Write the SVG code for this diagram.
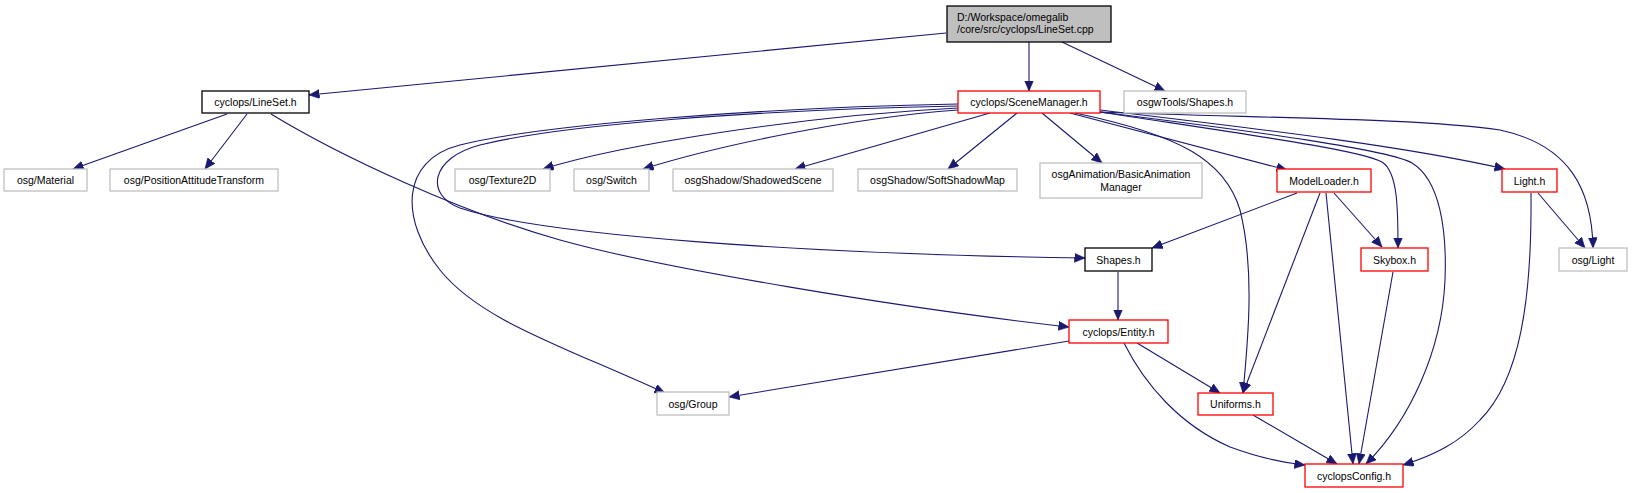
<svg xmlns="http://www.w3.org/2000/svg" width="1632" height="493" viewBox="0 0 1632 493">
<style>
text{font-family:"Liberation Sans",Arial,sans-serif;font-size:10.5px;fill:#000;text-anchor:middle}
.b{fill:#fff;stroke:#000;stroke-width:1.3}
.r{fill:#fff;stroke:#ff0000;stroke-width:1.3}
.g{fill:#fff;stroke:#bfbfbf;stroke-width:1.3}
.top{fill:#bfbfbf;stroke:#000;stroke-width:1.3}
#edges path{fill:none;stroke:#191970;stroke-width:1.1;marker-end:url(#ah)}
</style>
<defs>
<marker id="ah" markerUnits="userSpaceOnUse" markerWidth="11" markerHeight="10" viewBox="0 0 11 10" refX="10.5" refY="4.5" orient="auto">
<path d="M0,0 L10.5,4.5 L0,9 z" fill="#191970" stroke="#191970" stroke-width="0.6"/>
</marker>
</defs>
<rect width="1632" height="493" fill="#fff"/>
<g id="edges">
<path d="M946,33 L309,95"/>
<path d="M1029,42 L1029,91"/>
<path d="M1062,42 L1165,91"/>
<path d="M227,114 L73,169"/>
<path d="M247,114 L205,169"/>
<path d="M271,114 C340,156 460,212 560,240 S900,308 1069,327"/>
<path d="M958,106 C750,110 560,125 480,145 C430,158 425,195 460,208 C540,235 800,254 1085,258"/>
<path d="M958,104 C750,108 540,125 460,145 C400,160 400,220 440,270 C480,320 560,345 665,393"/>
<path d="M958,108 C800,116 620,145 543,169"/>
<path d="M958,110 C850,118 720,145 643,169"/>
<path d="M990,113 L795,169"/>
<path d="M1017,113 L948,169"/>
<path d="M1042,113 L1102,163"/>
<path d="M1070,113 L1287,170"/>
<path d="M1075,113 C1180,135 1225,160 1240,210 C1255,270 1248,340 1243,393"/>
<path d="M1100,112 C1250,135 1360,150 1382,162 C1398,172 1398,210 1398,248"/>
<path d="M1100,112 C1260,132 1390,150 1412,163 C1440,180 1447,230 1445,280 C1442,350 1410,420 1366,464"/>
<path d="M1100,110 C1250,128 1400,145 1505,169"/>
<path d="M1100,112 C1250,118 1420,118 1500,130 C1570,145 1592,190 1593,248"/>
<path d="M1297,193 L1152,248"/>
<path d="M1320,193 L1243,393"/>
<path d="M1334,193 L1382,247"/>
<path d="M1326,193 L1353,464"/>
<path d="M1538,193 L1585,248"/>
<path d="M1531,193 C1532,300 1520,380 1480,420 C1460,442 1435,455 1403,465"/>
<path d="M1393,272 L1359,464"/>
<path d="M1118,272 L1118,320"/>
<path d="M1069,341 L729,397"/>
<path d="M1137,343 L1220,393"/>
<path d="M1124,343 C1145,385 1180,425 1230,447 C1260,458 1285,463 1305,465"/>
<path d="M1253,415 L1337,464"/>
</g>
<g id="n_cpp"><rect class="top" x="947" y="6" width="164" height="36"/><text x="957" y="21" style="text-anchor:start">D:/Workspace/omegalib</text><text x="957" y="33" style="text-anchor:start">/core/src/cyclops/LineSet.cpp</text></g>
<g id="n_lineset"><rect class="b" x="202" y="91" width="107" height="22"/><text x="255.5" y="106">cyclops/LineSet.h</text></g>
<g id="n_scenemgr"><rect class="r" x="958" y="91" width="142" height="22"/><text x="1029" y="106">cyclops/SceneManager.h</text></g>
<g id="n_osgwshapes"><rect class="g" x="1124" y="91" width="122" height="22"/><text x="1185" y="106">osgwTools/Shapes.h</text></g>
<g id="n_material"><rect class="g" x="4" y="169" width="83" height="22"/><text x="45.5" y="184">osg/Material</text></g>
<g id="n_pat"><rect class="g" x="110" y="169" width="168" height="22"/><text x="194" y="184">osg/PositionAttitudeTransform</text></g>
<g id="n_texture2d"><rect class="g" x="455" y="169" width="95" height="22"/><text x="502.5" y="184">osg/Texture2D</text></g>
<g id="n_switch"><rect class="g" x="574" y="169" width="75" height="22"/><text x="611.5" y="184">osg/Switch</text></g>
<g id="n_shadowed"><rect class="g" x="673" y="169" width="160" height="22"/><text x="753" y="184">osgShadow/ShadowedScene</text></g>
<g id="n_softshadow"><rect class="g" x="858" y="169" width="159" height="22"/><text x="937.5" y="184">osgShadow/SoftShadowMap</text></g>
<g id="n_anim"><rect class="g" x="1040" y="163" width="162" height="35"/><text x="1121" y="178">osgAnimation/BasicAnimation</text><text x="1121" y="191">Manager</text></g>
<g id="n_modelloader"><rect class="r" x="1277" y="169" width="94" height="23"/><text x="1324" y="185">ModelLoader.h</text></g>
<g id="n_light"><rect class="r" x="1502" y="169" width="55" height="23"/><text x="1529.5" y="185">Light.h</text></g>
<g id="n_skybox"><rect class="r" x="1361" y="248" width="67" height="23"/><text x="1394.5" y="264">Skybox.h</text></g>
<g id="n_osglight"><rect class="g" x="1559" y="248" width="68" height="23"/><text x="1593" y="264">osg/Light</text></g>
<g id="n_shapes"><rect class="b" x="1085" y="248" width="67" height="23"/><text x="1118.5" y="264">Shapes.h</text></g>
<g id="n_entity"><rect class="r" x="1069" y="320" width="99" height="23"/><text x="1118.5" y="336">cyclops/Entity.h</text></g>
<g id="n_uniforms"><rect class="r" x="1198" y="393" width="75" height="22"/><text x="1235.5" y="408">Uniforms.h</text></g>
<g id="n_group"><rect class="g" x="657" y="392" width="72" height="23"/><text x="693" y="408">osg/Group</text></g>
<g id="n_config"><rect class="r" x="1305" y="464" width="98" height="23"/><text x="1354" y="480">cyclopsConfig.h</text></g>
</svg>
